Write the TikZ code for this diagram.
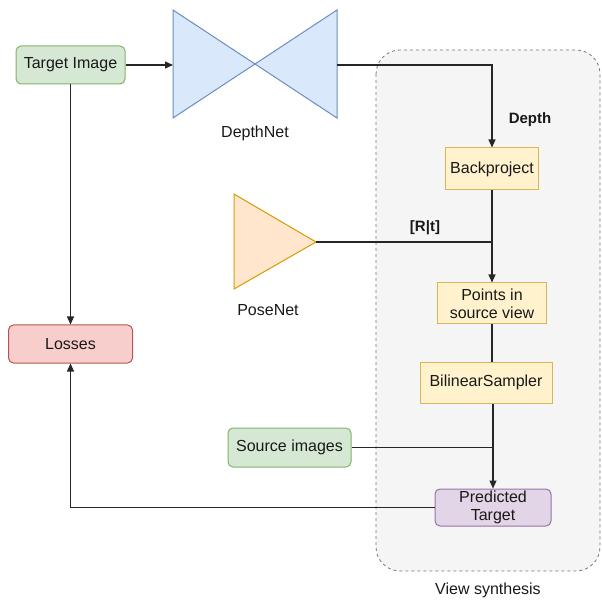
\documentclass[tikz,border=0pt]{standalone}
\usepackage{fontspec}
\setmainfont{Liberation Sans}
\usetikzlibrary{arrows.meta}
\definecolor{greenfill}{HTML}{D5E8D4}\definecolor{greenline}{HTML}{82B366}
\definecolor{bluefill}{HTML}{DAE8FC}\definecolor{blueline}{HTML}{6C8EBF}
\definecolor{orangefill}{HTML}{FFE6CC}\definecolor{orangeline}{HTML}{D79B00}
\definecolor{yellowfill}{HTML}{FFF2CC}\definecolor{yellowline}{HTML}{D6B656}
\definecolor{redfill}{HTML}{F8CECC}\definecolor{redline}{HTML}{B85450}
\definecolor{purplefill}{HTML}{E1D5E7}\definecolor{purpleline}{HTML}{9673A6}
\definecolor{groupfill}{HTML}{F5F5F5}\definecolor{groupline}{HTML}{777777}
\begin{document}
\begin{tikzpicture}[x=1pt,y=-1pt,
  every node/.style={font=\fontsize{16}{18}\selectfont, text=black!90, align=center, inner sep=0pt},
  box/.style={draw, line width=1pt, rounded corners=5pt},
  greenbox/.style={box, fill=greenfill, draw=greenline},
  redbox/.style={box, fill=redfill, draw=redline},
  purplebox/.style={box, fill=purplefill, draw=purpleline},
  yellowbox/.style={draw=yellowline, fill=yellowfill, line width=1pt},
  link/.style={draw=black!85, line width=1.1pt},
  arr/.style={link, -{Triangle[length=8pt,width=7pt]}},
  boldlabel/.style={font=\bfseries\fontsize{15}{17}\selectfont}
]
\useasboundingbox (0,0) rectangle (602,601);

% View synthesis group
\draw[fill=groupfill, draw=groupline, dashed, line width=0.8pt, rounded corners=24pt]
  (376,50) rectangle (600,571);
\node (vslabel) at (488,590) {View synthesis};

% DepthNet (bow-tie)
\draw[fill=bluefill, draw=blueline, line width=1pt]
  (173,10) -- (337,118) -- (337,10) -- (173,118) -- cycle;
\coordinate (depthin) at (173,65);
\coordinate (depthout) at (337,65);
\node (depthlabel) at (255,133) {DepthNet};

% PoseNet (triangle)
\draw[fill=orangefill, draw=orangeline, line width=1pt]
  (234,194) -- (316,242) -- (234,289) -- cycle;
\coordinate (poseout) at (316,242);
\node (poselabel) at (268,310) {PoseNet};

% Boxes
\node[greenbox, minimum width=109pt, minimum height=38pt] (target) at (70.5,65) {Target Image};
\node[redbox, minimum width=124pt, minimum height=38pt] (losses) at (70.5,344) {Losses};
\node[yellowbox, minimum width=93pt, minimum height=42pt] (back) at (492,169) {Backproject};
\node[yellowbox, minimum width=109pt, minimum height=41pt] (pts) at (492,303.5) {Points in\\source view};
\node[yellowbox, minimum width=132pt, minimum height=41pt] (bil) at (486,382.5) {BilinearSampler};
\node[greenbox, minimum width=123pt, minimum height=39pt] (src) at (289.5,447.5) {Source images};
\node[purplebox, minimum width=116pt, minimum height=37pt] (pred) at (493,507.5) {Predicted\\Target};

% Junction points
\coordinate (jpose) at (492,242);
\coordinate (jsrc) at (492,447.5);

% Connectors
\draw[arr] (target.east) -- (depthin);
\draw[arr] (depthout) -| (back.north);
\node[boldlabel] (depthtxt) at (530,120) {Depth};
\draw[arr] (target.south) -- (target.south |- losses.north);
\draw[link] (poseout) -- (jpose);
\node[boldlabel] (rt) at (425,228) {[R|t]};
\draw[arr] (back.south) -- (pts.north);
\draw[link] (pts.south) -- (pts.south |- bil.north);
\draw[link] (src.east) -- (jsrc);
\draw[arr] (bil.south -| pred.north) -- (pred.north);
\draw[arr] (pred.west) -| (losses.south);
\end{tikzpicture}
\end{document}
